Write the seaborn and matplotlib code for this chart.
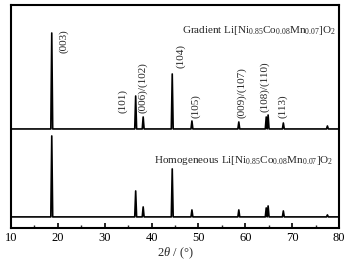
import numpy as np
import pandas as pd
import matplotlib
matplotlib.use("Agg")
import matplotlib.pyplot as plt
import seaborn as sns

# Peak data (2theta in degrees, relative intensity, arbitrary units)
peak_pos = [18.7, 36.6, 38.2, 44.4, 48.6, 58.6, 64.45, 64.85, 68.1, 77.5]
grad_int = [96, 33, 12, 55, 8, 7, 12, 14, 6, 3]
homo_int = [81, 26, 10, 48, 7, 7, 9, 11, 6, 2]
grad_offset = 99
homo_offset = 11
half_width = 0.2

hkl_labels = ["(003)", "(101)", "(006)/(102)", "(104)", "(105)",
              "(009)/(107)", "(108)/(110)", "(113)"]
hkl_x = [21.3, 33.9, 38.0, 46.1, 49.3, 59.3, 64.2, 68.0]
hkl_y = [175, 115, 115, 160, 110, 110, 116, 110]

sns.set_theme(style="ticks")
plt.rcParams["font.family"] = ["Liberation Serif", "DejaVu Serif"]
plt.rcParams["mathtext.fontset"] = "custom"
plt.rcParams["mathtext.rm"] = "Liberation Serif"
plt.rcParams["mathtext.it"] = "Liberation Serif:italic"


def profile(pos, inten, offset):
    xs, ys = [10.0], [offset]
    for p, h in zip(pos, inten):
        xs += [p - half_width, p, p + half_width]
        ys += [offset, offset + h, offset]
    xs.append(80.0)
    ys.append(offset)
    return pd.DataFrame({"x": xs, "y": ys})


fig = plt.figure(figsize=(3.54, 2.65), dpi=100)
ax = fig.add_axes([0.031, 0.140, 0.927, 0.841])

for inten, off in [(grad_int, grad_offset), (homo_int, homo_offset)]:
    df = profile(peak_pos, inten, off)
    sns.lineplot(data=df, x="x", y="y", ax=ax, color="black", lw=1.2,
                 estimator=None, sort=False)

ax.set_xlim(10, 80)
ax.set_ylim(0, 223)
ax.set_yticks([])
ax.set_xticks(range(10, 81, 10))
ax.set_xticks(range(15, 80, 10), minor=True)
ax.tick_params(axis="x", which="major", direction="in", length=3.5, width=1.2,
               labelsize=9, pad=3, colors="black")
ax.tick_params(axis="x", which="minor", direction="in", length=2, width=1.0)
for s in ax.spines.values():
    s.set_linewidth(1.5)
    s.set_color("black")
    s.set_visible(True)
ax.set_ylabel("")
ax.set_xlabel(r"$\mathit{2\theta}$ / (°)", fontsize=9, labelpad=1)

for lab, x, y in zip(hkl_labels, hkl_x, hkl_y):
    ax.text(x, y, lab, rotation=90, ha="center", va="bottom", fontsize=8)

ax.text(79.4, 195, r"Gradient Li[Ni$_{0.85}$Co$_{0.08}$Mn$_{0.07}$]O$_2$",
        ha="right", va="baseline", fontsize=8)
ax.text(78.7, 65, r"Homogeneous Li[Ni$_{0.85}$Co$_{0.08}$Mn$_{0.07}$]O$_2$",
        ha="right", va="baseline", fontsize=8)

fig.savefig("out.png", dpi=100)
